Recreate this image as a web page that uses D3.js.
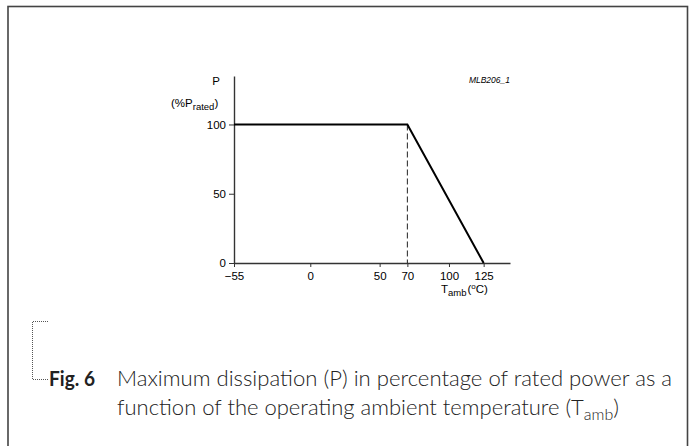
<!DOCTYPE html>
<html>
<head>
<meta charset="utf-8">
<script src="https://cdn.jsdelivr.net/npm/d3@7"></script>
<style>
  body { margin: 0; background: #fff; }
  svg { display: block; }
  .axis text { font-family: "Liberation Sans", Arial, sans-serif; font-size: 11.5px; fill: #000; }
  .axis path, .axis line { stroke: #333; }
  .lbl { font-family: "Liberation Sans", Arial, sans-serif; fill: #000; }
  .cap { font-family: Lato, "Open Sans", sans-serif; fill: #222; }
</style>
</head>
<body>
<svg id="chart" width="693" height="446"></svg>
<script>
// derating curve: ambient temperature (degC) vs max dissipation (% of rated)
var tempC = [-55, 70, 125];
var powerPct = [100, 100, 0];
var kneeTemp = 70;
var xTicks = [-55, 0, 50, 70, 100, 125];
var yTicks = [0, 50, 100];

var svg = d3.select("#chart");

var x = d3.scaleLinear()
    .domain([-55, 144])
    .range([234, 510]);

var y = d3.scaleLinear()
    .domain([0, 135])
    .range([263, 76]);

// frame
svg.append("rect")
    .attr("x", 8).attr("y", 6.5)
    .attr("width", 679.5).attr("height", 520)
    .attr("fill", "none")
    .attr("stroke", "#444")
    .attr("stroke-width", 1.6);

svg.append("g")
    .attr("class", "axis")
    .attr("transform", "translate(0," + y(0) + ")")
    .call(d3.axisBottom(x).tickValues(xTicks).tickSize(4).tickSizeOuter(0).tickPadding(5));

svg.append("g")
    .attr("class", "axis")
    .attr("transform", "translate(" + x(-55) + ",0)")
    .call(d3.axisLeft(y).tickValues(yTicks).tickSize(5).tickSizeOuter(0).tickPadding(3));

svg.selectAll(".axis path").attr("stroke-width", 1.4);

// dashed guide at the knee
svg.append("line")
    .attr("x1", x(kneeTemp)).attr("x2", x(kneeTemp))
    .attr("y1", y(100)).attr("y2", y(0))
    .attr("stroke", "#222")
    .attr("stroke-width", 1)
    .attr("stroke-dasharray", "6,3");

var pts = tempC.map(function(t, i) { return [t, powerPct[i]]; });

var line = d3.line()
    .x(function(d) { return x(d[0]); })
    .y(function(d) { return y(d[1]); });

svg.append("path")
    .datum(pts)
    .attr("d", line)
    .attr("fill", "none")
    .attr("stroke", "#000")
    .attr("stroke-width", 2);

// axis titles
svg.append("text").attr("class", "lbl")
    .attr("x", 216).attr("y", 85)
    .attr("text-anchor", "middle")
    .attr("font-size", 11.5)
    .text("P");

var pr = svg.append("text").attr("class", "lbl")
    .attr("x", 171).attr("y", 107)
    .attr("font-size", 11.5);
pr.append("tspan").text("(%P");
pr.append("tspan").attr("font-size", 9.5).attr("dy", 3).text("rated");
pr.append("tspan").attr("dy", -3).text(")");

var ta = svg.append("text").attr("class", "lbl")
    .attr("x", 441).attr("y", 293)
    .attr("font-size", 11.5);
ta.append("tspan").text("T");
ta.append("tspan").attr("font-size", 9.5).attr("dy", 3).text("amb");
ta.append("tspan").attr("dx", 1).attr("dy", -3).text("(");
ta.append("tspan").attr("font-size", 8).attr("dy", -4).text("o");
ta.append("tspan").attr("dy", 4).text("C)");

svg.append("text").attr("class", "lbl")
    .attr("x", 510).attr("y", 83)
    .attr("text-anchor", "end")
    .attr("font-size", 8.5)
    .attr("font-style", "italic")
    .text("MLB206_1");

// caption
svg.append("path")
    .attr("d", "M48,321.5H32.5V379.5H48")
    .attr("fill", "none")
    .attr("stroke", "#555")
    .attr("stroke-width", 1)
    .attr("stroke-dasharray", "1,1");

svg.append("text").attr("class", "cap")
    .attr("x", 49).attr("y", 386)
    .attr("font-size", 21)
    .attr("font-weight", 700)
    .attr("fill", "#000")
    .attr("textLength", 46)
    .attr("lengthAdjust", "spacingAndGlyphs")
    .text("Fig. 6");

svg.append("text").attr("class", "cap")
    .attr("x", 117).attr("y", 386)
    .attr("font-size", 22)
    .attr("font-weight", 300)
    .attr("textLength", 555)
    .attr("lengthAdjust", "spacingAndGlyphs")
    .text("Maximum dissipation (P) in percentage of rated power as a");

var c2 = svg.append("text").attr("class", "cap")
    .attr("x", 117).attr("y", 415)
    .attr("font-size", 22)
    .attr("font-weight", 300);
c2.append("tspan").text("function of the operating ambient temperature (T");
c2.append("tspan").attr("font-size", 16).attr("dy", 5).text("amb");
c2.append("tspan").attr("dy", -5).text(")");
</script>
</body>
</html>
